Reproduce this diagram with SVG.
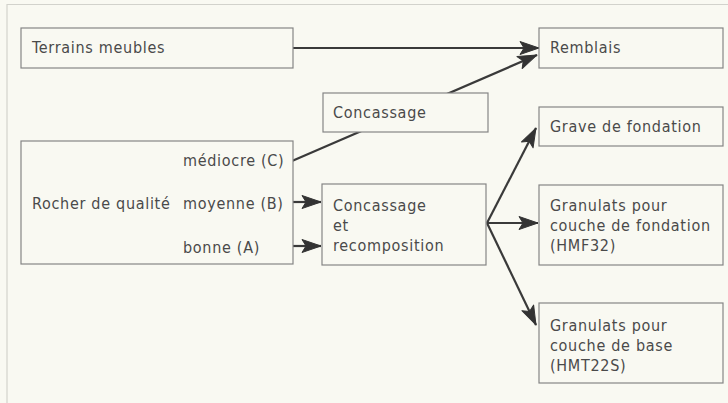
<svg xmlns="http://www.w3.org/2000/svg" width="728" height="403" viewBox="0 0 728 403">
<defs>
<style>
.bg{fill:#f9f9f2}
.box{fill:#f9f9f2;stroke:#858585;stroke-width:1.2}
.t{font-family:"DejaVu Sans Condensed","Liberation Sans",sans-serif;font-size:16px;letter-spacing:0.7px;fill:#4a4a4a}
.c{fill:none;stroke:#3a3a3a;stroke-width:2.2}
.frame{fill:none;stroke:#d2d2cc;stroke-width:1.2}
.head{fill:#333;stroke:#333;stroke-width:1;stroke-linejoin:round}
</style>
<marker id="ah" markerUnits="userSpaceOnUse" markerWidth="22" markerHeight="18" refX="20" refY="9" orient="auto" viewBox="0 0 22 18" overflow="visible">
<path class="head" d="M1,2.5 L20,9 L1,15.5 L5,9 z"/>
</marker>
</defs>
<rect class="bg" x="0" y="0" width="728" height="403"/>
<path class="frame" d="M7,403 V4.5 H728"/>
<g id="connectors">
<line class="c" x1="293" y1="48" x2="539" y2="48" marker-end="url(#ah)"/>
<line class="c" x1="292" y1="161" x2="537" y2="55" marker-end="url(#ah)"/>
<line class="c" x1="293" y1="202" x2="321" y2="202" marker-end="url(#ah)"/>
<line class="c" x1="293" y1="246" x2="321" y2="246" marker-end="url(#ah)"/>
<line class="c" x1="487" y1="223" x2="536" y2="128" marker-end="url(#ah)"/>
<line class="c" x1="487" y1="223" x2="538" y2="223" marker-end="url(#ah)"/>
<line class="c" x1="487" y1="223" x2="536" y2="325" marker-end="url(#ah)"/>
</g>
<g id="terrains">
<rect class="box" x="21" y="28" width="272" height="40"/>
<text class="t" x="32" y="53">Terrains meubles</text>
</g>
<g id="remblais">
<rect class="box" x="539" y="28" width="184" height="40"/>
<text class="t" x="550" y="53">Remblais</text>
</g>
<g id="concassage">
<rect class="box" x="323" y="93" width="165" height="39"/>
<text class="t" x="333" y="118">Concassage</text>
</g>
<g id="grave">
<rect class="box" x="539" y="107" width="184" height="39"/>
<text class="t" x="550" y="132">Grave de fondation</text>
</g>
<g id="rocher">
<rect class="box" x="21" y="141" width="272" height="123"/>
<text class="t" x="32" y="209">Rocher de qualité</text>
<text class="t" x="183" y="166">médiocre (C)</text>
<text class="t" x="183" y="209">moyenne (B)</text>
<text class="t" x="183" y="253">bonne (A)</text>
</g>
<g id="recomposition">
<rect class="box" x="322" y="184" width="164" height="81"/>
<text class="t" x="333" y="211">Concassage</text>
<text class="t" x="333" y="231">et</text>
<text class="t" x="333" y="251">recomposition</text>
</g>
<g id="hmf32">
<rect class="box" x="539" y="185" width="184" height="80"/>
<text class="t" x="550" y="211">Granulats pour</text>
<text class="t" x="550" y="231">couche de fondation</text>
<text class="t" x="550" y="251">(HMF32)</text>
</g>
<g id="hmt22s">
<rect class="box" x="539" y="303" width="184" height="80"/>
<text class="t" x="550" y="331">Granulats pour</text>
<text class="t" x="550" y="351">couche de base</text>
<text class="t" x="550" y="371">(HMT22S)</text>
</g>
</svg>
